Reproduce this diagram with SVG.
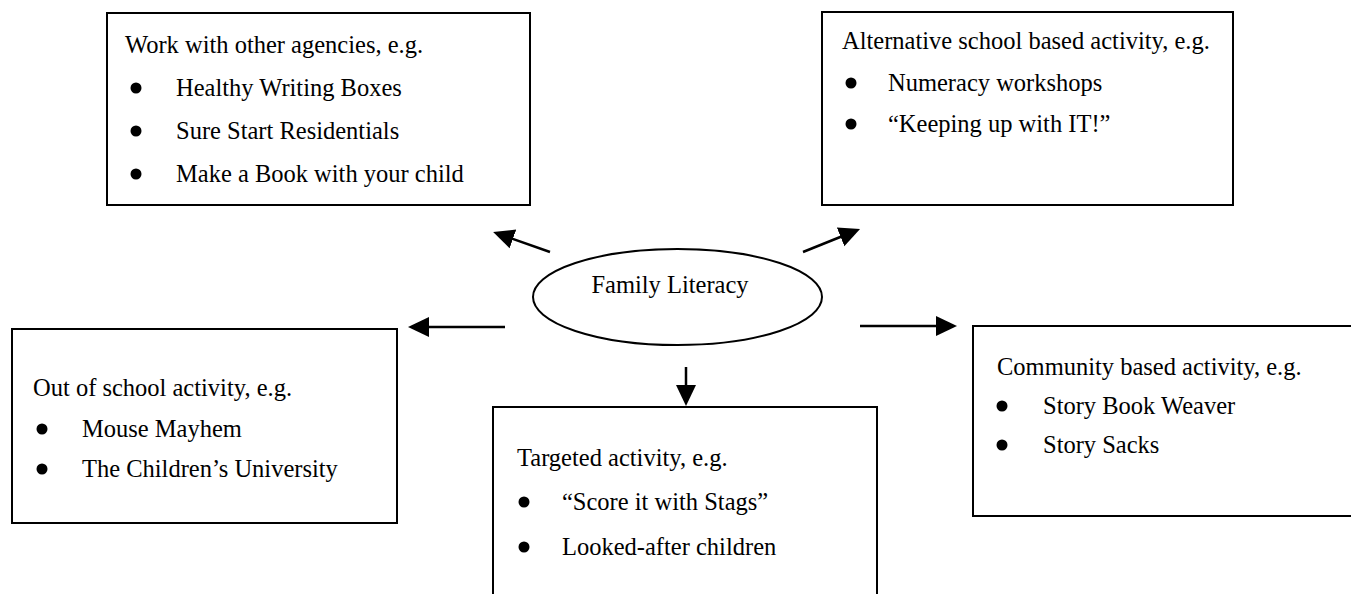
<svg xmlns="http://www.w3.org/2000/svg" width="1351" height="594" viewBox="0 0 1351 594">
<defs>
<style>
.box{fill:#fff;stroke:#000;stroke-width:2}
.t{font-family:"Liberation Serif","Times New Roman",serif;font-size:24.5px;fill:#000}
.b{fill:#000}
.c{stroke:#000;stroke-width:2.5;fill:none;marker-end:url(#ah)}
</style>
<marker id="ah" markerUnits="userSpaceOnUse" markerWidth="24" markerHeight="24" viewBox="0 -12 24 24" refX="1" refY="0" orient="auto">
<path d="M0,-10 L21,0 L0,10 z" fill="#000"/>
</marker>
</defs>
<rect width="1351" height="594" fill="#fff"/>
<g id="connectors">
<line class="c" x1="550" y1="252" x2="512" y2="238.6"/>
<line class="c" x1="803" y1="252" x2="841.5" y2="236.5"/>
<line class="c" x1="505" y1="327" x2="428" y2="327"/>
<line class="c" x1="860" y1="326" x2="937" y2="326"/>
<line class="c" x1="686" y1="367" x2="686" y2="386"/>
</g>
<g id="center">
<ellipse cx="677.5" cy="297" rx="144.5" ry="48" fill="#fff" stroke="#000" stroke-width="2"/>
<text class="t" x="670" y="293" text-anchor="middle">Family Literacy</text>
</g>
<g id="agencies">
<rect class="box" x="107" y="13" width="423" height="192"/>
<text class="t" x="125" y="53">Work with other agencies, e.g.</text>
<circle class="b" cx="136" cy="88" r="5.5"/>
<text class="t" x="176" y="96">Healthy Writing Boxes</text>
<circle class="b" cx="136" cy="131" r="5.5"/>
<text class="t" x="176" y="139">Sure Start Residentials</text>
<circle class="b" cx="136" cy="174" r="5.5"/>
<text class="t" x="176" y="182">Make a Book with your child</text>
</g>
<g id="alternative">
<rect class="box" x="822" y="12" width="411" height="193"/>
<text class="t" x="842" y="49">Alternative school based activity, e.g.</text>
<circle class="b" cx="851" cy="83" r="5.5"/>
<text class="t" x="888" y="91">Numeracy workshops</text>
<circle class="b" cx="851" cy="124" r="5.5"/>
<text class="t" x="888" y="132">“Keeping up with IT!”</text>
</g>
<g id="outofschool">
<rect class="box" x="12" y="329" width="385" height="194"/>
<text class="t" x="33" y="396">Out of school activity, e.g.</text>
<circle class="b" cx="42" cy="429" r="5.5"/>
<text class="t" x="82" y="437">Mouse Mayhem</text>
<circle class="b" cx="42" cy="469" r="5.5"/>
<text class="t" x="82" y="477">The Children’s University</text>
</g>
<g id="targeted">
<rect class="box" x="493" y="407" width="384" height="200"/>
<text class="t" x="517" y="466">Targeted activity, e.g.</text>
<circle class="b" cx="524" cy="502" r="5.5"/>
<text class="t" x="562" y="510">“Score it with Stags”</text>
<circle class="b" cx="524" cy="547" r="5.5"/>
<text class="t" x="562" y="555">Looked-after children</text>
</g>
<g id="community">
<rect class="box" x="973" y="326" width="400" height="190"/>
<text class="t" x="997" y="375">Community based activity, e.g.</text>
<circle class="b" cx="1002" cy="406" r="5.5"/>
<text class="t" x="1043" y="414">Story Book Weaver</text>
<circle class="b" cx="1002" cy="445" r="5.5"/>
<text class="t" x="1043" y="453">Story Sacks</text>
</g>
</svg>
